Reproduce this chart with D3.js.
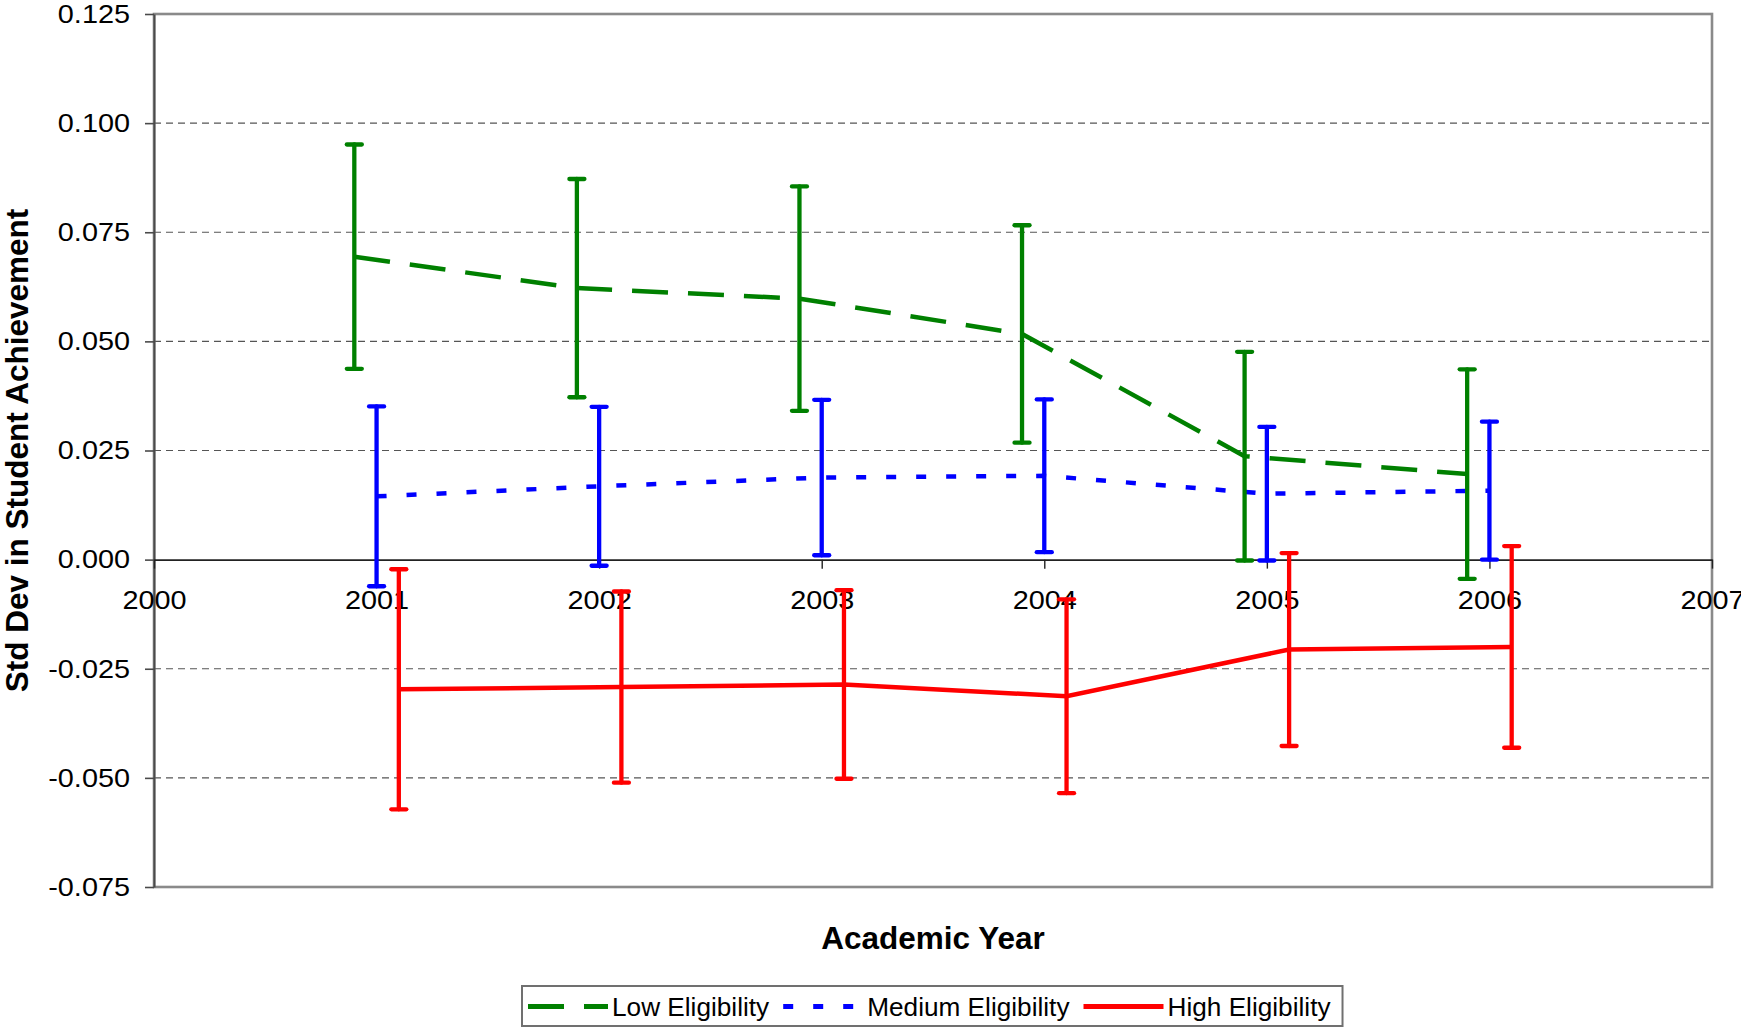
<!DOCTYPE html>
<html>
<head>
<meta charset="utf-8">
<script src="https://cdn.jsdelivr.net/npm/d3@7"></script>
<style>
  html, body { margin: 0; padding: 0; background: #fff; }
  svg { display: block; font-family: "Liberation Sans", Arial, sans-serif; }
</style>
</head>
<body>
<svg id="chart" width="1741" height="1027"></svg>
<script>
// Academic years measured
const years = [2001, 2002, 2003, 2004, 2005, 2006];

// Mean effect (std dev units) and error-bar half widths per eligibility group
const lowValues  = [0.0694, 0.0622, 0.0598, 0.0517, 0.0237, 0.0196];
const lowErrors  = [0.0257, 0.0250, 0.0257, 0.0249, 0.0239, 0.0240];
const medValues  = [0.0145, 0.0168, 0.0188, 0.0192, 0.0151, 0.0158];
const medErrors  = [0.0206, 0.0182, 0.0178, 0.0175, 0.0153, 0.0158];
const highValues = [-0.0297, -0.0292, -0.0286, -0.0313, -0.0206, -0.0200];
const highErrors = [0.0275, 0.0219, 0.0216, 0.0222, 0.0221, 0.0231];

// Axis ticks
const xTickValues = [2000, 2001, 2002, 2003, 2004, 2005, 2006, 2007];
const yTickValues = [-0.075, -0.050, -0.025, 0.000, 0.025, 0.050, 0.075, 0.100, 0.125];

const seriesNames = ["Low Eligibility", "Medium Eligibility", "High Eligibility"];
const xTitle = "Academic Year";
const yTitle = "Std Dev in Student Achievement";

// Series styling: horizontal offset (years) keeps the bars from overlapping
const series = [
  { name: seriesNames[0], values: lowValues,  errors: lowErrors,  color: "#008000", dash: "36,20", offset: -0.1 },
  { name: seriesNames[1], values: medValues,  errors: medErrors,  color: "#0000ff", dash: "10,20", offset: 0 },
  { name: seriesNames[2], values: highValues, errors: highErrors, color: "#ff0000", dash: null,    offset: 0.1 }
];

const plot = { left: 154, right: 1712, top: 14, bottom: 887 };
const svg = d3.select("#chart");

const x = d3.scaleLinear().domain([2000, 2007]).range([plot.left, plot.right]);
const y = d3.scaleLinear().domain([-0.075, 0.125]).range([plot.bottom, plot.top]);

const fmtY = v => d3.format(".3f")(v).replace("\u2212", "-");
const tickFont = 26, tickStretch = 1.11;   // tick numerals are set slightly wide

// Dashed horizontal gridlines
svg.append("g")
  .selectAll("line")
  .data(yTickValues.filter(v => Math.abs(v) > 1e-9 && v > -0.07 && v < 0.12))
  .join("line")
  .attr("x1", plot.left).attr("x2", plot.right)
  .attr("y1", d => y(d)).attr("y2", d => y(d))
  .attr("stroke", "#555").attr("stroke-width", 1.2)
  .attr("stroke-dasharray", "7,5");

// Plot-area border
svg.append("rect")
  .attr("x", plot.left).attr("y", plot.top)
  .attr("width", plot.right - plot.left).attr("height", plot.bottom - plot.top)
  .attr("fill", "none").attr("stroke", "#8a8a8a").attr("stroke-width", 2.6);

// Y axis
const yAxis = svg.append("g")
  .attr("transform", `translate(${plot.left},0)`)
  .call(d3.axisLeft(y).tickValues(yTickValues).tickFormat(fmtY)
    .tickSize(9).tickSizeOuter(0).tickPadding(15));
yAxis.select(".domain").attr("stroke", "#4a4a4a").attr("stroke-width", 2);
yAxis.selectAll(".tick line").attr("stroke", "#4a4a4a").attr("stroke-width", 1.6);
yAxis.selectAll(".tick text")
  .attr("font-size", tickFont).attr("fill", "#000")
  .attr("font-family", "'Liberation Sans', Arial, sans-serif")
  .attr("x", -24 / tickStretch)
  .attr("transform", `scale(${tickStretch},1)`);

// X axis along the zero line
const xAxis = svg.append("g")
  .attr("transform", `translate(0,${y(0)})`)
  .call(d3.axisBottom(x).tickValues(xTickValues).tickFormat(d3.format("d"))
    .tickSize(9).tickSizeOuter(0).tickPadding(22));
xAxis.select(".domain").attr("stroke", "#222").attr("stroke-width", 1.6);
xAxis.selectAll(".tick line").attr("stroke", "#222").attr("stroke-width", 1.4);
xAxis.selectAll(".tick text")
  .attr("font-size", tickFont).attr("fill", "#000")
  .attr("font-family", "'Liberation Sans', Arial, sans-serif")
  .attr("transform", `scale(${tickStretch},1)`);

// Series lines
const line = d3.line().x(d => x(d.year)).y(d => y(d.value));
series.forEach(s => {
  const pts = years.map((yr, i) => ({ year: yr + s.offset, value: s.values[i], err: s.errors[i] }));
  svg.append("path")
    .datum(pts)
    .attr("d", line)
    .attr("fill", "none")
    .attr("stroke", s.color)
    .attr("stroke-width", 4.5)
    .attr("stroke-dasharray", s.dash);
  s.points = pts;
});

// Error bars with caps
series.forEach(s => {
  const g = svg.append("g")
    .attr("stroke", s.color).attr("stroke-width", 4.3).attr("stroke-linecap", "round");
  g.selectAll("line.bar").data(s.points).join("line").attr("class", "bar")
    .attr("x1", d => x(d.year)).attr("x2", d => x(d.year))
    .attr("y1", d => y(d.value + d.err)).attr("y2", d => y(d.value - d.err));
  g.selectAll("line.capTop").data(s.points).join("line").attr("class", "capTop")
    .attr("x1", d => x(d.year) - 7.5).attr("x2", d => x(d.year) + 7.5)
    .attr("y1", d => y(d.value + d.err)).attr("y2", d => y(d.value + d.err));
  g.selectAll("line.capBot").data(s.points).join("line").attr("class", "capBot")
    .attr("x1", d => x(d.year) - 7.5).attr("x2", d => x(d.year) + 7.5)
    .attr("y1", d => y(d.value - d.err)).attr("y2", d => y(d.value - d.err));
});

// Axis titles
svg.append("text")
  .attr("x", (plot.left + plot.right) / 2).attr("y", 949)
  .attr("text-anchor", "middle")
  .attr("font-size", 31.5).attr("font-weight", "bold")
  .text(xTitle);

svg.append("text")
  .attr("transform", `translate(28,${(plot.top + plot.bottom) / 2}) rotate(-90)`)
  .attr("text-anchor", "middle")
  .attr("font-size", 31.5).attr("font-weight", "bold")
  .text(yTitle);

// Legend
const legend = svg.append("g");
const legendBox = legend.append("rect")
  .attr("fill", "#fff").attr("stroke", "#707070").attr("stroke-width", 2);
const legendY = 1006.5;
let lx = 528;
series.forEach(s => {
  legend.append("line")
    .attr("x1", lx).attr("x2", lx + 80)
    .attr("y1", legendY).attr("y2", legendY)
    .attr("stroke", s.color).attr("stroke-width", 5)
    .attr("stroke-dasharray", s.dash);
  const t = legend.append("text")
    .attr("x", lx + 84).attr("y", 1015.5)
    .attr("font-size", 26.2)
    .text(s.name);
  lx = lx + 84 + t.node().getComputedTextLength() + 14;
});
legendBox
  .attr("x", 522).attr("y", 986)
  .attr("width", lx - 14 + 12 - 522).attr("height", 40);
</script>
</body>
</html>
